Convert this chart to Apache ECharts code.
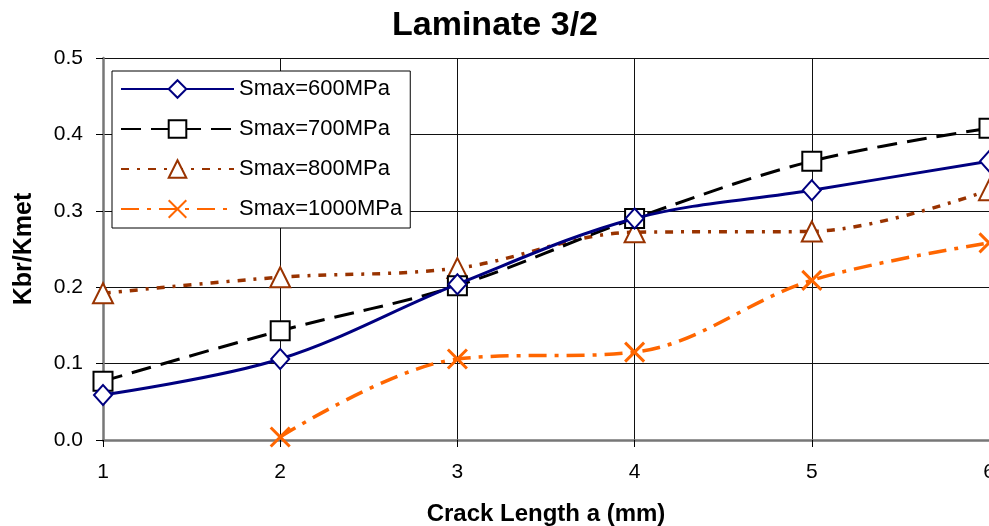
<!DOCTYPE html>
<html>
<head>
<meta charset="utf-8">
<script src="https://cdn.jsdelivr.net/npm/echarts@6/dist/echarts.min.js"></script>
<style>
  html, body { margin: 0; padding: 0; background: #fff; }
  #chart { width: 989px; height: 526px; }
</style>
</head>
<body>
<div id="chart"></div>
<script>
// crack length a (mm)
const crackLength = [1, 2, 3, 4, 5, 6];
const yTicks = [0.0, 0.1, 0.2, 0.3, 0.4, 0.5];

// Kbr/Kmet
const smax600 = [0.059, 0.106, 0.204, 0.290, 0.327, 0.365];
const smax700 = [0.077, 0.143, 0.202, 0.290, 0.365, 0.408];
const smax800 = [0.192, 0.213, 0.225, 0.272, 0.273, 0.327];
const smax1000 = [null, 0.004, 0.106, 0.115, 0.209, 0.258];

const seriesNames = ['Smax=600MPa', 'Smax=700MPa', 'Smax=800MPa', 'Smax=1000MPa'];

function pairs(vals) {
  let out = [];
  for (let i = 0; i < crackLength.length; i++) {
    if (vals[i] !== null) out.push([crackLength[i], vals[i]]);
  }
  return out;
}

const FONT = '"Liberation Sans", Arial, sans-serif';
const crossPath = 'path://M0,0L20,20M20,0L0,20';

let myChart = echarts.init(document.getElementById('chart'), null, { renderer: 'canvas' });

let option = {
  backgroundColor: '#fff',
  animation: false,
  title: {
    text: 'Laminate 3/2',
    left: 490,
    textAlign: 'center',
    top: 4,
    textStyle: { fontFamily: FONT, fontSize: 34, fontWeight: 'bold', color: '#000' }
  },
  legend: {
    orient: 'vertical',
    left: 112,
    top: 71,
    padding: [7, 8, 8, 8],
    itemWidth: 113,
    itemHeight: 22,
    itemGap: 18,
    backgroundColor: '#fff',
    borderColor: '#000',
    borderWidth: 1,
    borderRadius: 0,
    textStyle: { fontFamily: FONT, fontSize: 22, color: '#000' },
    data: seriesNames
  },
  grid: { left: 103, right: 0, top: 58, bottom: 86, containLabel: false, outerBoundsMode: 'none' },
  xAxis: {
    type: 'value',
    min: 1,
    max: 6,
    interval: 1,
    name: 'Crack Length a (mm)',
    nameLocation: 'middle',
    nameGap: 62,
    nameTextStyle: { fontFamily: FONT, fontSize: 24, fontWeight: 'bold', color: '#000' },
    axisLine: { lineStyle: { color: '#777', width: 2.5 } },
    axisTick: { show: true, length: 7, lineStyle: { color: '#000', width: 1 } },
    axisLabel: {
      margin: 22, fontFamily: FONT, fontSize: 21, color: '#000',
      showMaxLabel: true,
      formatter: function (v) { return crackLength.indexOf(v) >= 0 ? String(v) : ''; }
    },
    splitLine: { show: true, lineStyle: { color: '#111', width: 1 } }
  },
  yAxis: {
    type: 'value',
    min: 0,
    max: 0.5,
    interval: 0.1,
    name: 'Kbr/Kmet',
    nameLocation: 'middle',
    nameGap: 66,
    nameTextStyle: { fontFamily: FONT, fontSize: 25, fontWeight: 'bold', color: '#000' },
    axisLine: { show: true, lineStyle: { color: '#777', width: 2.5 } },
    axisTick: { show: true, length: 7, lineStyle: { color: '#000', width: 1 } },
    axisLabel: {
      margin: 20, fontFamily: FONT, fontSize: 21, color: '#000',
      formatter: function (v) {
        let t = yTicks.find(function (k) { return Math.abs(k - v) < 1e-6; });
        return t === undefined ? '' : t.toFixed(1);
      }
    },
    splitLine: { show: true, lineStyle: { color: '#111', width: 1 } }
  },
  series: [
    {
      name: seriesNames[0],
      type: 'line',
      data: pairs(smax600),
      smooth: 0.35,
      color: '#000080',
      symbol: 'emptyDiamond',
      symbolSize: [18, 20],
      itemStyle: { color: '#000080', borderColor: '#000080', borderWidth: 3 },
      lineStyle: { color: '#000080', width: 3, type: 'solid' },
      z: 5
    },
    {
      name: seriesNames[1],
      type: 'line',
      data: pairs(smax700),
      smooth: 0.35,
      color: '#000',
      symbol: 'emptyRect',
      symbolSize: 19,
      itemStyle: { color: '#000', borderColor: '#000', borderWidth: 3 },
      lineStyle: { color: '#000', width: 3, type: [20, 10] },
      z: 4
    },
    {
      name: seriesNames[2],
      type: 'line',
      data: pairs(smax800),
      smooth: 0.35,
      color: '#993300',
      symbol: 'emptyTriangle',
      symbolSize: 20,
      itemStyle: { color: '#993300', borderColor: '#993300', borderWidth: 3 },
      lineStyle: { color: '#993300', width: 3.5, type: [8, 8, 3, 8] },
      z: 3
    },
    {
      name: seriesNames[3],
      type: 'line',
      data: pairs(smax1000),
      smooth: 0.35,
      color: '#FF6600',
      symbol: crossPath,
      symbolSize: 19,
      itemStyle: { color: '#FF6600', borderColor: '#FF6600', borderWidth: 3 },
      lineStyle: { color: '#FF6600', width: 3.5, type: [18, 8, 4, 8] },
      z: 2
    }
  ]
};

if (option && typeof option === 'object') {
  myChart.setOption(option, true);
}
</script>
</body>
</html>
